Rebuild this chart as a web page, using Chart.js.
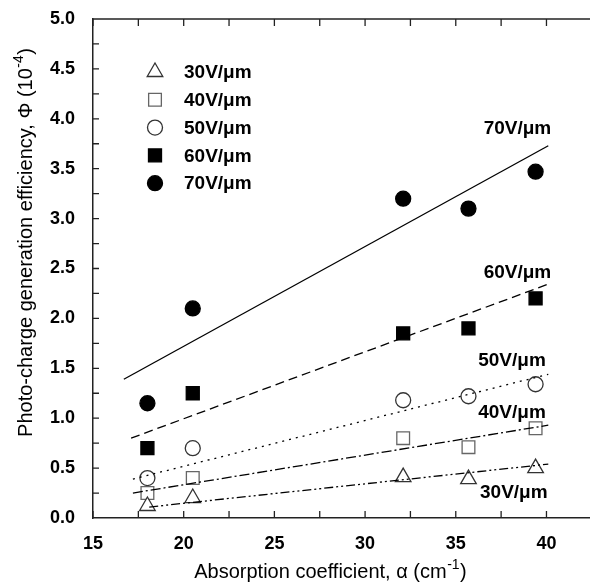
<!DOCTYPE html>
<html>
<head>
<meta charset="utf-8">
<script src="https://cdn.jsdelivr.net/npm/chart.js@4/dist/chart.umd.min.js"></script>
<style>
  html, body { margin: 0; padding: 0; background: #fff; }
  #wrap { width: 590px; height: 583px; }
</style>
</head>
<body>
<div id="wrap"><canvas id="c"></canvas></div>
<script>
// absorption coefficient alpha (cm^-1) of the samples
const alpha = [18.0, 20.5, 32.1, 35.7, 39.4];
// photo-charge generation efficiency (1e-4) per field
const phi30 = [0.12, 0.20, 0.41, 0.39, 0.50];
const phi40 = [0.25, 0.40, 0.80, 0.71, 0.90];
const phi50 = [0.40, 0.70, 1.18, 1.22, 1.34];
const phi60 = [0.70, 1.25, 1.85, 1.90, 2.20];
const phi70 = [1.15, 2.10, 3.20, 3.10, 3.47];
// linear fits, end points as drawn
const fit30 = [[18.1, 0.11], [40.1, 0.54]];
const fit40 = [[17.2, 0.25], [40.1, 0.93]];
const fit50 = [[17.2, 0.39], [40.1, 1.44]];
const fit60 = [[17.1, 0.80], [40.2, 2.35]];
const fit70 = [[16.7, 1.39], [40.1, 3.73]];
const fields = ['30V/\u03bcm', '40V/\u03bcm', '50V/\u03bcm', '60V/\u03bcm', '70V/\u03bcm'];
const xTicks = [15, 20, 25, 30, 35, 40];
const yTicks = [0, 0.5, 1, 1.5, 2, 2.5, 3, 3.5, 4, 4.5, 5];

const pts = ys => ys.map((y, i) => ({ x: alpha[i], y }));
const seg = f => f.map(p => ({ x: p[0], y: p[1] }));

const FONT = '"Liberation Sans", Arial, sans-serif';

const marker = [
  { pointStyle: 'triangle', radius: 9, bg: '#fff', border: '#333' },
  { pointStyle: 'rect', radius: 9, bg: '#fff', border: '#666' },
  { pointStyle: 'circle', radius: 7.5, bg: '#fff', border: '#333' },
  { pointStyle: 'rect', radius: 9.2, bg: '#000', border: '#000' },
  { pointStyle: 'circle', radius: 7.5, bg: '#000', border: '#000' }
];
const dashes = [[9, 3, 2, 3, 2, 3], [10, 3, 2, 3], [2, 5], [9, 5], []];

const series = [phi30, phi40, phi50, phi60, phi70];
const fits = [fit30, fit40, fit50, fit60, fit70];

const datasets = [];
fits.forEach((f, i) => datasets.push({
  data: seg(f), showLine: true, pointRadius: 0, borderColor: '#000',
  borderWidth: 1.3, borderDash: dashes[i], fill: false
}));
series.forEach((s, i) => datasets.push({
  data: pts(s), showLine: false, pointStyle: marker[i].pointStyle,
  pointRadius: marker[i].radius, backgroundColor: marker[i].bg,
  borderColor: marker[i].border, borderWidth: 1.3
}));

// labels next to the fit lines, placed in data units
const lineLabels = [
  { x: 38.2, y: 0.25 }, { x: 38.1, y: 1.05 }, { x: 38.1, y: 1.58 },
  { x: 38.4, y: 2.46 }, { x: 38.4, y: 3.90 }
];

function drawMarker(ctx, m, x, y) {
  ctx.save();
  ctx.fillStyle = m.bg; ctx.strokeStyle = m.border; ctx.lineWidth = 1.3;
  ctx.beginPath();
  const r = m.radius;
  if (m.pointStyle === 'circle') ctx.arc(x, y, r, 0, Math.PI * 2);
  else if (m.pointStyle === 'rect') { const s = r * Math.SQRT1_2; ctx.rect(x - s, y - s, 2 * s, 2 * s); }
  else {
    ctx.moveTo(x, y - r);
    ctx.lineTo(x + r * 0.866, y + r / 2);
    ctx.lineTo(x - r * 0.866, y + r / 2);
    ctx.closePath();
  }
  ctx.fill(); ctx.stroke();
  ctx.restore();
}

// text with a raised exponent, centred on cx in current transform
function supText(ctx, main, sup, cx, by, size) {
  ctx.font = size + 'px ' + FONT;
  const w1 = ctx.measureText(main).width;
  const wc = ctx.measureText(')').width;
  ctx.font = Math.round(size * 0.68) + 'px ' + FONT;
  const ws = ctx.measureText(sup).width;
  const sx = cx - (w1 + ws + wc) / 2;
  ctx.font = size + 'px ' + FONT;
  ctx.fillText(main, sx, by);
  ctx.fillText(')', sx + w1 + ws + 1, by);
  ctx.font = Math.round(size * 0.68) + 'px ' + FONT;
  ctx.fillText(sup, sx + w1 + 0.5, by - size * 0.45);
}

const extras = {
  id: 'extras',
  afterDraw(chart) {
    const { ctx, chartArea: a, scales: { x, y } } = chart;
    ctx.save();
    ctx.strokeStyle = '#222'; ctx.lineWidth = 1.5;
    // top frame line
    ctx.beginPath(); ctx.moveTo(a.left, a.top); ctx.lineTo(a.right, a.top); ctx.stroke();
    // inward ticks
    ctx.lineWidth = 1.3;
    ctx.beginPath();
    for (let v = 15; v <= 42.4; v += 2.5) {
      const px = x.getPixelForValue(v);
      ctx.moveTo(px, a.bottom); ctx.lineTo(px, a.bottom - 7);
      ctx.moveTo(px, a.top); ctx.lineTo(px, a.top + 7);
    }
    for (let v = 0.25; v < 5; v += 0.25) {
      const py = y.getPixelForValue(v);
      ctx.moveTo(a.left, py); ctx.lineTo(a.left + 6, py);
    }
    ctx.stroke();

    // legend
    ctx.fillStyle = '#000';
    ctx.textBaseline = 'middle'; ctx.textAlign = 'left';
    fields.forEach((t, i) => {
      const ly = 72 + i * 27.8;
      drawMarker(ctx, marker[i], 155, ly);
      ctx.fillStyle = '#000';
      ctx.font = 'bold 19px ' + FONT;
      ctx.fillText(t, 184, ly + 1);
    });

    // line labels
    ctx.font = 'bold 19px ' + FONT;
    ctx.textAlign = 'center';
    lineLabels.forEach((p, i) => {
      ctx.fillText(fields[i], x.getPixelForValue(p.x), y.getPixelForValue(p.y));
    });

    // axis titles
    ctx.textAlign = 'left'; ctx.textBaseline = 'alphabetic';
    supText(ctx, 'Absorption coefficient, \u03b1 (cm', '-1', 330, 578, 20);

    ctx.save();
    ctx.translate(32, 243);
    ctx.rotate(-Math.PI / 2);
    supText(ctx, 'Photo-charge generation efficiency, \u03a6 (10', '-4', 0, 0, 20);
    ctx.restore();

    ctx.restore();
  }
};

new Chart(document.getElementById('c'), {
  type: 'scatter',
  data: { datasets },
  options: {
    responsive: true,
    maintainAspectRatio: false,
    animation: false,
    layout: { autoPadding: false, padding: { top: 19, left: 0, right: 0, bottom: 0 } },
    plugins: { legend: { display: false }, tooltip: { enabled: false } },
    scales: {
      x: {
        type: 'linear', min: 15, max: 42.4,
        afterBuildTicks: s => { s.ticks = xTicks.map(v => ({ value: v })); },
        afterFit: s => { s.height = 65; s.paddingLeft = 0; s.paddingRight = 0; },
        grid: { display: false },
        border: { color: '#222', width: 1.5 },
        ticks: { color: '#000', padding: 7, font: { size: 18, weight: 'bold', family: FONT } }
      },
      y: {
        type: 'linear', min: 0, max: 5,
        afterBuildTicks: s => { s.ticks = yTicks.map(v => ({ value: v })); },
        afterFit: s => { s.width = 93; s.paddingTop = 0; s.paddingBottom = 0; },
        grid: { display: false },
        border: { color: '#222', width: 1.5 },
        ticks: { color: '#000', padding: 10, callback: v => v.toFixed(1), font: { size: 18, weight: 'bold', family: FONT } }
      }
    }
  },
  plugins: [extras]
});
</script>
</body>
</html>
